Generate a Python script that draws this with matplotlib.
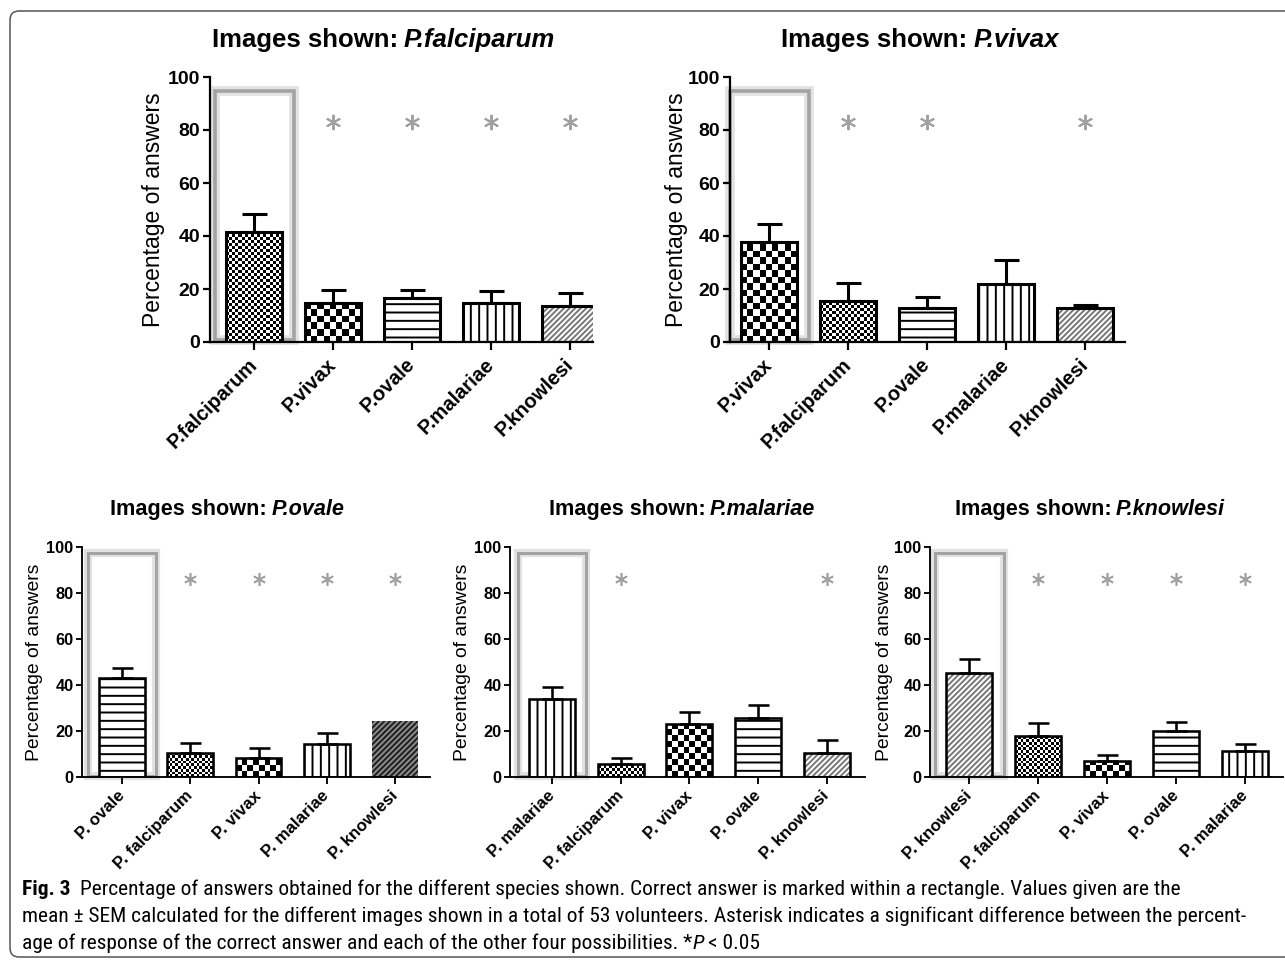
import numpy as np
import matplotlib.pyplot as plt
from matplotlib import font_manager
from matplotlib.patches import Rectangle, FancyBboxPatch
from matplotlib.transforms import IdentityTransform

plt.rcParams['font.family'] = ['Liberation Sans', 'DejaVu Sans']
plt.rcParams['hatch.linewidth'] = 1.4

# data
shown = ['falciparum', 'vivax', 'ovale', 'malariae', 'knowlesi']
orders = [
    ['falciparum', 'vivax', 'ovale', 'malariae', 'knowlesi'],
    ['vivax', 'falciparum', 'ovale', 'malariae', 'knowlesi'],
    ['ovale', 'falciparum', 'vivax', 'malariae', 'knowlesi'],
    ['malariae', 'falciparum', 'vivax', 'ovale', 'knowlesi'],
    ['knowlesi', 'falciparum', 'vivax', 'ovale', 'malariae'],
]
means = [
    [41.5, 14.7, 16.6, 14.7, 13.6],
    [37.7, 15.5, 12.8, 21.9, 12.8],
    [43.0, 10.4, 8.3, 14.3, 24.3],
    [34.0, 5.7, 23.1, 25.8, 10.5],
    [45.2, 17.8, 7.0, 20.0, 11.3],
]
sem = [
    [6.8, 4.9, 3.0, 4.5, 4.9],
    [6.8, 6.8, 4.2, 9.0, 1.2],
    [4.4, 4.4, 4.3, 4.7, 0.0],
    [5.3, 2.6, 5.3, 5.6, 5.5],
    [6.1, 5.6, 2.6, 4.0, 3.0],
]
signif = [
    [0, 1, 1, 1, 1],
    [0, 1, 1, 0, 1],
    [0, 1, 1, 1, 1],
    [0, 1, 0, 0, 1],
    [0, 1, 1, 1, 1],
]
yticks = [0, 20, 40, 60, 80, 100]

caption1 = ("Percentage of answers obtained for the different species shown. "
            "Correct answer is marked within a rectangle. Values given are the")
caption2 = ("mean \u00b1 SEM calculated for the different images shown in a total of "
            "53 volunteers. Asterisk indicates a significant difference between the percent-")
caption3 = ("age of response of the correct answer and each of the other four "
            "possibilities. *")

# fill style per species
fills = {
    'falciparum': dict(checker=3.0),
    'vivax': dict(checker=6.5),
    'ovale': dict(hatch='--', hc='black'),
    'malariae': dict(hatch='||', hc='black'),
    'knowlesi': dict(hatch='//////', hc='#777777'),
}

W, H = 1285, 968
fig = plt.figure(figsize=(W / 100, H / 100), dpi=100)
ident = IdentityTransform()
rend = fig.canvas.get_renderer()

# frame round the whole figure
fig.patches.append(FancyBboxPatch((10, 11), W + 20, H - 22, boxstyle='round,pad=0,rounding_size=9',
                                  transform=ident, fill=False, edgecolor='#555555', lw=1.1))

# axes boxes in pixels (left, top, right, bottom), first tick px and tick step
boxes = [(210, 77, 593, 342), (730, 77, 1125, 342),
         (82, 547, 430, 777), (510, 547, 865, 777), (930, 547, 1283, 777)]
tick0 = [254, 769, 122, 552, 969]
step = [79, 79, 68.3, 68.7, 69]
title_cx = [383, 920, 227, 682, 1090]
lpad = [2, 0, 2, 2, 1]


def rich(x, y, pieces, size, family, center=False):
    texts = []
    for s, w, st, g in pieces:
        t = fig.text(0, y, s, transform=ident, fontsize=size, family=family,
                     fontweight=w, fontstyle=st, va='baseline', ha='left')
        texts.append((t, g))
    x0 = 0
    pos = []
    for t, g in texts:
        x0 += g
        pos.append(x0)
        x0 += t.get_window_extent(rend).width
    shift = x - x0 / 2 if center else x
    for (t, g), px in zip(texts, pos):
        t.set_x(px + shift)


def checker(ax, bar, cell):
    bb = bar.get_window_extent(rend)
    nx = max(1, int(round(bb.width / cell)))
    ny = int(np.ceil(bb.height / cell)) + 1
    pat = np.indices((ny, nx)).sum(axis=0) % 2
    x0, w, h = bar.get_x(), bar.get_width(), bar.get_height()
    hh = h * ny * cell / bb.height
    im = ax.imshow(pat, cmap='gray_r', extent=(x0, x0 + w, 0, hh), origin='lower',
                   interpolation='nearest', aspect='auto', zorder=2, vmin=0, vmax=1)
    im.set_clip_path(bar)


for p in range(5):
    top = p < 2
    sc = 1.0 if top else 0.84
    l, t, r, b = boxes[p]
    ax = fig.add_axes([l / W, 1 - b / H, (r - l) / W, (b - t) / H])
    xl = ((l - tick0[p]) / step[p], (r - tick0[p]) / step[p])
    ax.set_xlim(*xl)
    ax.set_ylim(0, 100)
    bw = 0.70 if top else 0.67
    x = np.arange(5)
    for i, sp in enumerate(orders[p]):
        f = fills[sp]
        special = (p == 2 and sp == 'knowlesi')
        if special:
            ax.bar(i, means[p][i], bw, facecolor='#8c8c8c', hatch='//////',
                   edgecolor='#1e1e1e', lw=0, zorder=2)
            continue
        if 'checker' in f:
            fb = ax.bar(i, means[p][i], bw, facecolor='white', lw=0, zorder=2)[0]
            checker(ax, fb, f['checker'] * (1 if top else 0.9))
        else:
            ax.bar(i, means[p][i], bw, facecolor='white', hatch=f['hatch'],
                   edgecolor=f['hc'], lw=0, zorder=2)
        ax.bar(i, means[p][i], bw, facecolor='none', edgecolor='black',
               lw=2.2 * sc, zorder=3)
    m = np.array(means[p])
    e = np.array(sem[p])
    has = e > 0
    ax.errorbar(x[has], m[has], yerr=[np.zeros(has.sum()), e[has]], fmt='none',
                ecolor='black', elinewidth=2.2 * sc, capsize=9 * sc, capthick=2.2 * sc,
                zorder=2.5)
    # correct-answer rectangle
    bh = 94 if top else 97
    ax.add_patch(Rectangle((-0.5, 0.6), 1.0, bh, fill=False, edgecolor='#e2e2e2',
                           lw=7 * sc, zorder=1, clip_on=False))
    ax.add_patch(Rectangle((-0.5, 0.6), 1.0, bh, fill=False, edgecolor='#a3a3a3',
                           lw=2.6 * sc, zorder=1.2, clip_on=False))
    sg = np.array(signif[p]) == 1
    ay = 83 if top else 86
    ax.plot(x[sg], np.full(sg.sum(), ay), ls='none', marker=(6, 2, 0), ms=11 * sc,
            mec='#a0a0a0', mew=1.4 * sc, clip_on=False)

    for s in ['top', 'right']:
        ax.spines[s].set_visible(False)
    for s in ['left', 'bottom']:
        ax.spines[s].set_linewidth(1.6 * sc)
    ax.set_yticks(yticks)
    ax.set_xticks(x)
    sep = '.' if top else '. '
    ax.set_xticklabels(['P' + sep + sp for sp in orders[p]], rotation=45, ha='right',
                       va='center', rotation_mode='anchor', fontweight='bold',
                       fontsize=14.5 * sc)
    ax.tick_params(axis='y', labelsize=14 * sc, width=1.6 * sc, length=5 * sc, pad=2)
    ax.tick_params(axis='x', width=1.6 * sc, length=6 * sc, pad=8 * sc)
    for lab in ax.get_yticklabels():
        lab.set_fontweight('bold')
    ax.set_ylabel('Percentage of answers', fontsize=16.5 * sc, labelpad=lpad[p])
    ax.set_facecolor('none')

    ty = H - (47 if top else 515)
    rich(title_cx[p], ty, [('Images shown:', 'bold', 'normal', 0),
                           ('P.' + shown[p], 'bold', 'italic', 5.5 * sc)],
         18.5 * sc, ['Liberation Sans', 'DejaVu Sans'], center=True)

# caption
names = {f.name for f in font_manager.fontManager.ttflist}
cap_font = next((n for n in ['Liberation Sans Narrow', 'DejaVu Sans Condensed',
                             'Roboto Condensed', 'Open Sans Condensed']
                 if n in names), 'Liberation Sans')
probe = fig.text(0, 0, caption2, fontsize=10, family=cap_font, transform=ident)
cs = 10 * 1212 / probe.get_window_extent(rend).width
probe.remove()
rich(22, H - 895, [('Fig. 3', 'bold', 'normal', 0), (caption1, 'normal', 'normal', 9)],
     cs, cap_font)
rich(22, H - 922, [(caption2, 'normal', 'normal', 0)], cs, cap_font)
rich(22, H - 949, [(caption3, 'normal', 'normal', 0), ('P', 'normal', 'italic', 0.5),
                   ('< 0.05', 'normal', 'normal', 4)], cs, cap_font)

fig.savefig('out.png', dpi=100)
